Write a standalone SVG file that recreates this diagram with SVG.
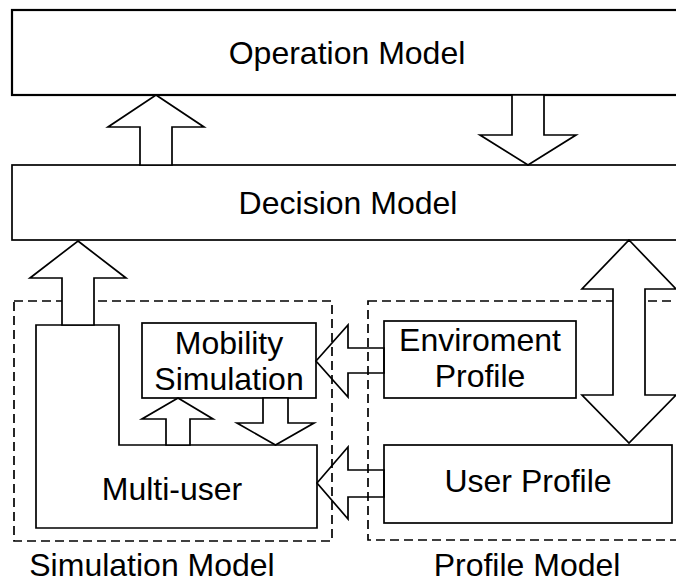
<svg xmlns="http://www.w3.org/2000/svg" width="676" height="582" viewBox="0 0 676 582">
  <style>
    .box { fill: #ffffff; stroke: #000000; stroke-width: 1.7; }
    .top { stroke-width: 2.2; }
    .group { fill: none; stroke: #000000; stroke-width: 1.7; stroke-dasharray: 9 5; }
    .label { font-family: "Liberation Sans", Arial, sans-serif; font-size: 32px; fill: #000000; text-anchor: middle; }
    .arrow { fill: #ffffff; stroke: #000000; stroke-width: 1.7; stroke-linejoin: miter; }
    .open { fill: none; }
  </style>
  <rect x="0" y="0" width="676" height="582" fill="#ffffff"/>

  <!-- upper layers -->
  <g id="operation-model">
    <rect class="box top" x="12" y="10" width="672" height="85"/>
    <text class="label" x="347" y="64">Operation Model</text>
  </g>
  <g id="decision-model">
    <rect class="box" x="12" y="165" width="672" height="75"/>
    <text class="label" x="348" y="214">Decision Model</text>
  </g>

  <!-- simulation model container -->
  <g id="simulation-model">
    <rect class="group" x="14" y="301" width="318" height="240"/>
    <text class="label" x="152" y="576">Simulation Model</text>
  </g>
  <g id="multi-user">
    <path class="box" d="M36,325 H119 V445 H317 V528 H36 Z"/>
    <text class="label" x="172" y="500">Multi-user</text>
  </g>
  <g id="mobility-simulation">
    <rect class="box" x="142" y="323" width="174" height="75"/>
    <text class="label" x="229" y="354">Mobility</text>
    <text class="label" x="229" y="390">Simulation</text>
  </g>

  <!-- profile model container -->
  <g id="profile-model">
    <rect class="group" x="368" y="301" width="316" height="239"/>
    <text class="label" x="527" y="576">Profile Model</text>
  </g>
  <g id="environment-profile">
    <rect class="box" x="384" y="321" width="192" height="77"/>
    <text class="label" x="480" y="351">Enviroment</text>
    <text class="label" x="480" y="387">Profile</text>
  </g>
  <g id="user-profile">
    <rect class="box" x="384" y="445" width="288" height="78"/>
    <text class="label" x="528" y="492">User Profile</text>
  </g>

  <!-- block arrows -->
  <g id="connectors">
    <!-- decision -> operation -->
    <polygon class="arrow" points="156,95 204,127 172,127 172,165 140,165 140,127 108,127"/>
    <!-- operation -> decision -->
    <polygon class="arrow" points="512,95 544,95 544,135 576,135 528,165 480,135 512,135"/>
    <!-- multi-user -> decision -->
    <polygon class="arrow" points="78,241 126,278 94,278 94,325 62,325 62,278 30,278"/>
    <!-- decision <-> user profile -->
    <polygon class="arrow" points="629,240 676,289 645,289 645,395 676,395 629,443 582,395 613,395 613,289 582,289"/>
    <!-- multi-user -> mobility -->
    <polygon class="arrow" points="178,398 213,419 190,419 190,445 166,445 166,419 142,419"/>
    <!-- mobility -> multi-user -->
    <polygon class="arrow" points="263,398 288,398 288,423 314,423 275.5,445 237,423 263,423"/>
    <!-- environment profile -> mobility -->
    <polygon class="arrow open" points="316,361 348,325 348,348 384,348 384,373 348,373 348,397"/>
    <!-- user profile -> multi-user -->
    <polygon class="arrow open" points="317,483 348,447 348,470 384,470 384,497 348,497 348,519"/>
  </g>
</svg>
